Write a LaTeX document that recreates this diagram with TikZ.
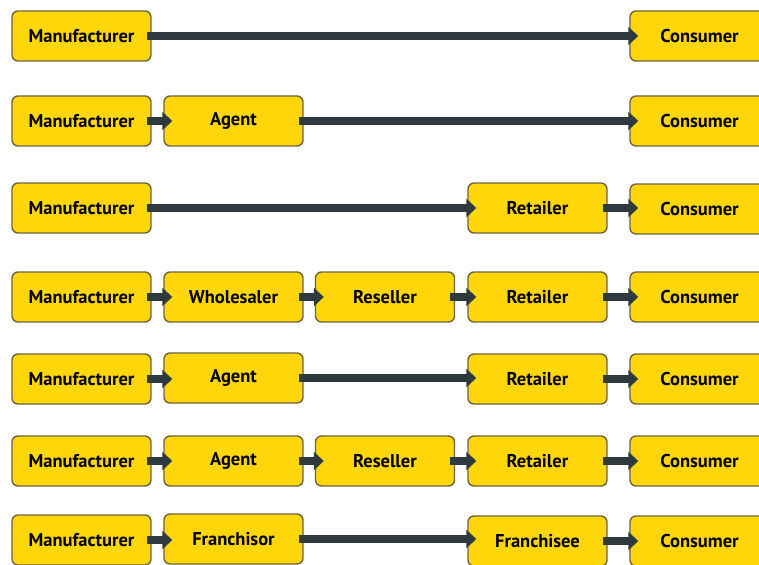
\documentclass[tikz,border=0pt]{standalone}
\usepackage{fontspec}
\setmainfont{PT Sans}
\usetikzlibrary{arrows.meta}
\definecolor{boxfill}{HTML}{FFD60A}
\definecolor{boxline}{HTML}{6E6440}
\definecolor{arrcol}{HTML}{2E3A3E}
\begin{document}
\begin{tikzpicture}[x=1pt,y=-1pt,
  box/.style={draw=boxline,line width=1.4pt,fill=boxfill,rounded corners=6pt,
    minimum width=139pt,minimum height=50pt,inner sep=0pt,
    font=\fontsize{18.5}{18.5}\selectfont\bfseries},
  arr/.style={draw=arrcol,line width=8.5pt,-{Triangle[length=10pt,width=18pt]}}]
\useasboundingbox (0,0) rectangle (759,564);
% columns
\def\ca{81.5}\def\cb{233.5}\def\cc{385}\def\cd{537.5}\def\ce{699.5}
% row 1
\node[box] (m1) at (\ca,36) {Manufacturer};
\node[box] (c1) at (\ce,36) {Consumer};
% row 2
\node[box] (m2) at (\ca,121) {Manufacturer};
\node[box] (a2) at (\cb,121) {Agent};
\node[box] (c2) at (\ce,121) {Consumer};
% row 3
\node[box] (m3) at (\ca,208) {Manufacturer};
\node[box] (r3) at (\cd,208) {Retailer};
\node[box] (c3) at (\ce,209) {Consumer};
% row 4
\node[box] (m4) at (\ca,297) {Manufacturer};
\node[box] (w4) at (\cb,297) {Wholesaler};
\node[box] (s4) at (\cc,297) {Reseller};
\node[box] (r4) at (\cd,297) {Retailer};
\node[box] (c4) at (\ce,297) {Consumer};
% row 5
\node[box] (m5) at (\ca,379) {Manufacturer};
\node[box] (a5) at (\cb,378) {Agent};
\node[box] (r5) at (\cd,379) {Retailer};
\node[box] (c5) at (\ce,379) {Consumer};
% row 6
\node[box] (m6) at (\ca,461) {Manufacturer};
\node[box] (a6) at (\cb,461) {Agent};
\node[box] (s6) at (\cc,461) {Reseller};
\node[box] (r6) at (\cd,461) {Retailer};
\node[box] (c6) at (\ce,461) {Consumer};
% row 7
\node[box] (m7) at (\ca,540) {Manufacturer};
\node[box] (f7) at (\cb,539) {Franchisor};
\node[box] (e7) at (\cd,541) {Franchisee};
\node[box] (c7) at (\ce,541) {Consumer};
% arrows
\newcommand{\link}[2]{\draw[arr] ([xshift=-5pt]#1.east) -- ([xshift=9pt]#2.west |- #1.east);}
\link{m1}{c1}
\link{m2}{a2}\link{a2}{c2}
\link{m3}{r3}\link{r3}{c3}
\link{m4}{w4}\link{w4}{s4}\link{s4}{r4}\link{r4}{c4}
\link{m5}{a5}\link{a5}{r5}\link{r5}{c5}
\link{m6}{a6}\link{a6}{s6}\link{s6}{r6}\link{r6}{c6}
\link{m7}{f7}\link{f7}{e7}\link{e7}{c7}
\end{tikzpicture}
\end{document}
